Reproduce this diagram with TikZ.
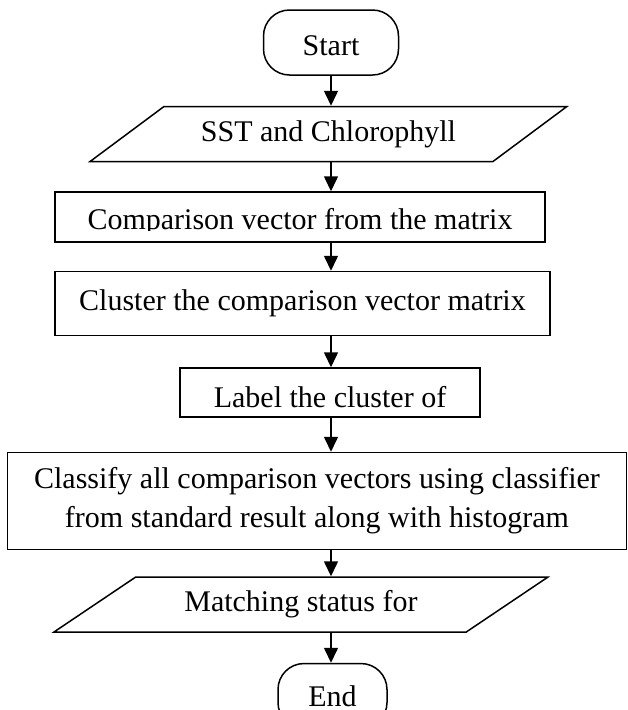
\documentclass[tikz,border=0pt]{standalone}
\usepackage{fontspec}
\usepackage{trimclip}
\setmainfont{Liberation Serif}
\usetikzlibrary{shapes.geometric, arrows.meta, positioning}

\begin{document}
\begin{tikzpicture}[>={Triangle[length=15pt,width=14pt]}, line width=1.5pt,
    every node/.style={font=\fontsize{30}{39}\selectfont},
    term/.style={draw, rectangle, rounded corners=26pt, minimum width=135pt, minimum height=65pt, text height=25pt, text depth=0pt},
    iobox/.style={draw, trapezium, trapezium left angle=30, trapezium right angle=150, trapezium stretches=true, minimum height=55pt},
    procbox/.style={draw, rectangle, align=center, inner sep=0pt}]
    \useasboundingbox (0,0) rectangle (627pt,-710pt);
    \node [term] (start) at (331pt,-42.5pt) {Start};
    \node [iobox, minimum width=479pt, below=30pt of start, xshift=-2.5pt] (sst) {SST and Chlorophyll};
    \node [procbox, minimum width=490pt, minimum height=50pt, text height=24pt, text depth=0pt, below=29pt of sst, xshift=-28.5pt] (cmp) {\clipbox{0pt 4.5pt 0pt 0pt}{Comparison vector from the matrix}};
    \node [procbox, minimum width=495pt, minimum height=64pt, below=28pt of cmp, xshift=2.5pt] (clu) {Cluster the comparison vector matrix};
    \node [procbox, minimum width=300pt, minimum height=49pt, text height=29pt, text depth=0pt, below=31pt of clu, xshift=27.5pt] (lab) {Label the cluster of};
    \node [procbox, minimum width=619pt, minimum height=97pt, below=34pt of lab, xshift=-13pt] (cls) {Classify all comparison vectors using classifier\\from standard result along with histogram};
    \node [iobox, minimum width=496pt, below=26pt of cls, xshift=-16pt] (mat) {Matching status for};
    \node [term, minimum width=109pt, text height=20pt, below=30pt of mat, xshift=31.5pt] (end) {End};

    \draw[->] (start) -- (sst.north -| start);
    \draw[->] (sst.south -| start) -- (cmp.north -| start);
    \draw[->] (cmp.south -| start) -- (clu.north -| start);
    \draw[->] (clu.south -| start) -- (lab.north -| start);
    \draw[->] (lab.south -| start) -- (cls.north -| start);
    \draw[->] (cls.south -| start) -- (mat.north -| start);
    \draw[->] (mat.south -| start) -- (end.north -| start);
\end{tikzpicture}
\end{document}
